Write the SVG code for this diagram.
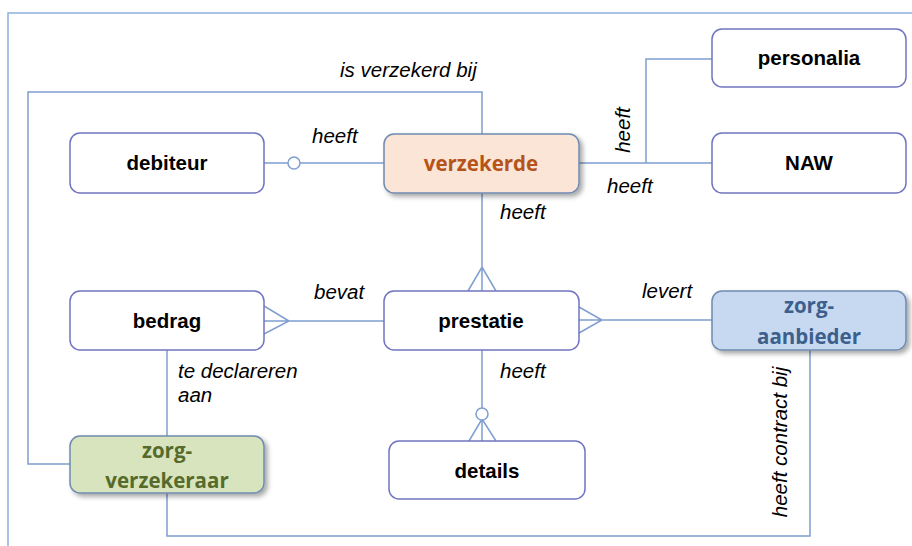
<svg xmlns="http://www.w3.org/2000/svg" width="912" height="546" viewBox="0 0 912 546">
<defs>
<filter id="sh" x="-10%" y="-20%" width="130%" height="150%">
<feGaussianBlur in="SourceAlpha" stdDeviation="2.5"/>
<feOffset dx="3" dy="3" result="b"/>
<feComponentTransfer><feFuncA type="linear" slope="0.35"/></feComponentTransfer>
<feMerge><feMergeNode/><feMergeNode in="SourceGraphic"/></feMerge>
</filter>
</defs>
<style>
.frame{fill:none;stroke:#8eb0dc;stroke-width:1.5}
.c{fill:none;stroke:#7f9fd0;stroke-width:1.5}
.circ{fill:#fff;stroke:#7f9fd0;stroke-width:1.5}
.box{fill:#fff;stroke:#7274bf;stroke-width:1.5}
.t{font-family:"Liberation Sans",Arial,sans-serif;font-weight:bold;font-size:20.5px;fill:#000;text-anchor:middle}
.ct{font-family:"Open Sans","Noto Sans",sans-serif;font-weight:bold;font-size:20.5px;text-anchor:middle}
.l{font-family:"Liberation Sans",Arial,sans-serif;font-style:italic;font-size:20.5px;fill:#000}
</style>
<rect width="912" height="546" fill="#fff"/>
<path class="frame" d="M8,546 V13 H912"/>

<g id="connectors">
<!-- is verzekerd bij -->
<path class="c" d="M482,134 V92 H28 V464 H70"/>
<!-- debiteur - verzekerde -->
<path class="c" d="M264,163 H288 M300,163 H384"/>
<circle class="circ" cx="294" cy="163" r="6"/>
<!-- verzekerde - NAW / personalia -->
<path class="c" d="M579,163 H712 M646,163 V59 H712"/>
<!-- verzekerde - prestatie -->
<path class="c" d="M482,193 V291 M468,291 L482,267 L496,291"/>
<!-- bedrag - prestatie -->
<path class="c" d="M264,321 H384 M264,306 L289,321 L264,334"/>
<!-- prestatie - zorgaanbieder -->
<path class="c" d="M579,320 H712 M579,307 L602,320 L579,333"/>
<!-- prestatie - details -->
<path class="c" d="M482,350 V408 M482,420 V441 M469,441 L482,419 L496,441"/>
<circle class="circ" cx="482" cy="414" r="6"/>
<!-- bedrag - zorgverzekeraar -->
<path class="c" d="M167,350 V436"/>
<!-- zorgverzekeraar - zorgaanbieder -->
<path class="c" d="M167,493 V536 H810 V350"/>
</g>

<g id="labels">
<text class="l" x="340" y="77">is verzekerd bij</text>
<text class="l" x="312" y="143">heeft</text>
<text class="l" x="607" y="193">heeft</text>
<text class="l" transform="translate(630,130) rotate(-90)" text-anchor="middle">heeft</text>
<text class="l" x="500" y="219">heeft</text>
<text class="l" x="314" y="299">bevat</text>
<text class="l" x="642" y="298">levert</text>
<text class="l" x="500" y="378">heeft</text>
<text class="l" x="178" y="378">te declareren</text>
<text class="l" x="178" y="402">aan</text>
<text class="l" transform="translate(787,442) rotate(-90)" text-anchor="middle">heeft contract bij</text>
</g>

<g id="debiteur">
<rect class="box" x="70" y="133" width="194" height="60" rx="10"/>
<text class="t" x="167" y="170">debiteur</text>
</g>
<g id="verzekerde">
<rect x="384" y="134" width="195" height="59" rx="10" fill="#fbe5d6" stroke="#6f8bb0" stroke-width="1.5" filter="url(#sh)"/>
<text class="ct" x="481" y="171" fill="#b5541a">verzekerde</text>
</g>
<g id="personalia">
<rect class="box" x="712" y="29" width="194" height="58" rx="10"/>
<text class="t" x="809" y="65">personalia</text>
</g>
<g id="NAW">
<rect class="box" x="712" y="133" width="194" height="60" rx="10"/>
<text class="t" x="809" y="170">NAW</text>
</g>
<g id="bedrag">
<rect class="box" x="70" y="291" width="194" height="59" rx="10"/>
<text class="t" x="167" y="328">bedrag</text>
</g>
<g id="prestatie">
<rect class="box" x="384" y="291" width="195" height="59" rx="10"/>
<text class="t" x="481" y="328">prestatie</text>
</g>
<g id="zorgaanbieder">
<rect x="712" y="291" width="194" height="59" rx="10" fill="#c6d9f1" stroke="#6f8bb0" stroke-width="1.5" filter="url(#sh)"/>
<text class="ct" x="809" y="313" fill="#3d5f8c">zorg-</text>
<text class="ct" x="809" y="344" fill="#3d5f8c">aanbieder</text>
</g>
<g id="zorgverzekeraar">
<rect x="70" y="436" width="194" height="57" rx="10" fill="#d7e4bd" stroke="#6f8bb0" stroke-width="1.5" filter="url(#sh)"/>
<text class="ct" x="167" y="458" fill="#566b2b">zorg-</text>
<text class="ct" x="167" y="488" fill="#566b2b">verzekeraar</text>
</g>
<g id="details">
<rect class="box" x="389" y="441" width="196" height="58" rx="10"/>
<text class="t" x="487" y="478">details</text>
</g>
</svg>
